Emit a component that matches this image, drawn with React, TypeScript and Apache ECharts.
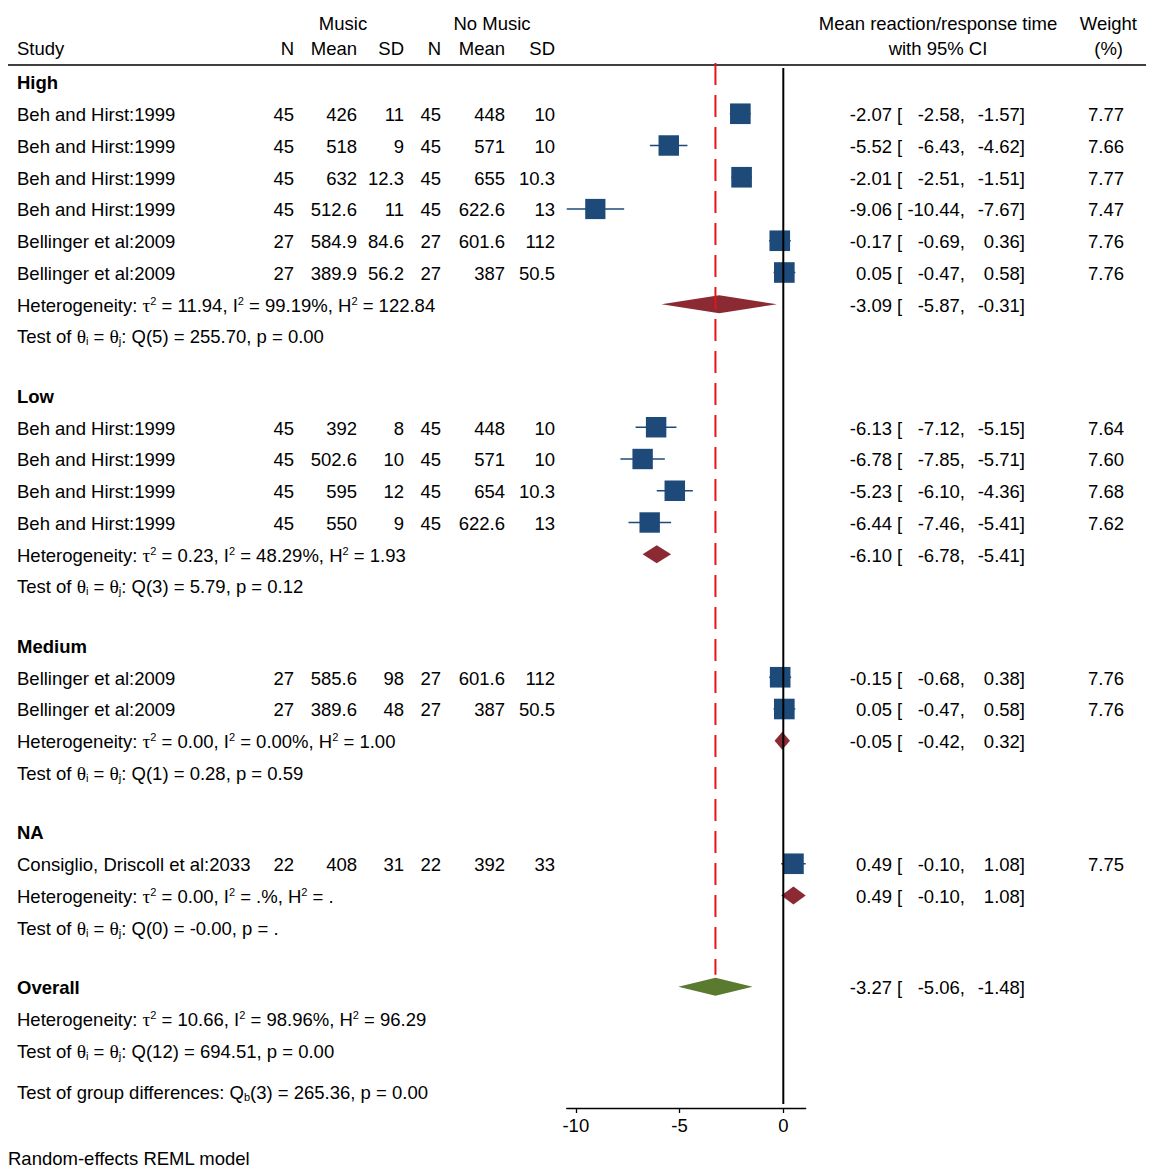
import React, { useEffect, useRef } from "react";
import * as echarts from "echarts";

// ---------------- data ----------------
const groupNames = ["High", "Low", "Medium", "NA"];
const studyNames = [
  "Beh and Hirst:1999", "Beh and Hirst:1999", "Beh and Hirst:1999", "Beh and Hirst:1999",
  "Bellinger et al:2009", "Bellinger et al:2009",
  "Beh and Hirst:1999", "Beh and Hirst:1999", "Beh and Hirst:1999", "Beh and Hirst:1999",
  "Bellinger et al:2009", "Bellinger et al:2009",
  "Consiglio, Driscoll et al:2033",
];
const studyGroup = [0, 0, 0, 0, 0, 0, 1, 1, 1, 1, 2, 2, 3];
const musicN = [45, 45, 45, 45, 27, 27, 45, 45, 45, 45, 27, 27, 22];
const musicMean = [426, 518, 632, 512.6, 584.9, 389.9, 392, 502.6, 595, 550, 585.6, 389.6, 408];
const musicSD = [11, 9, 12.3, 11, 84.6, 56.2, 8, 10, 12, 9, 98, 48, 31];
const noN = [45, 45, 45, 45, 27, 27, 45, 45, 45, 45, 27, 27, 22];
const noMean = [448, 571, 655, 622.6, 601.6, 387, 448, 571, 654, 622.6, 601.6, 387, 392];
const noSD = [10, 10, 10.3, 13, 112, 50.5, 10, 10, 10.3, 13, 112, 50.5, 33];
const effect = [-2.07, -5.52, -2.01, -9.06, -0.17, 0.05, -6.13, -6.78, -5.23, -6.44, -0.15, 0.05, 0.49];
const ciLow = [-2.58, -6.43, -2.51, -10.44, -0.69, -0.47, -7.12, -7.85, -6.1, -7.46, -0.68, -0.47, -0.1];
const ciHigh = [-1.57, -4.62, -1.51, -7.67, 0.36, 0.58, -5.15, -5.71, -4.36, -5.41, 0.38, 0.58, 1.08];
const weight = [7.77, 7.66, 7.77, 7.47, 7.76, 7.76, 7.64, 7.6, 7.68, 7.62, 7.76, 7.76, 7.75];

const groupEffect = [-3.09, -6.1, -0.05, 0.49];
const groupLow = [-5.87, -6.78, -0.42, -0.1];
const groupHigh = [-0.31, -5.41, 0.32, 1.08];
const groupTau2 = ["11.94", "0.23", "0.00", "0.00"];
const groupI2 = ["99.19%", "48.29%", "0.00%", ".%"];
const groupH2 = ["122.84", "1.93", "1.00", "."];
const groupQdf = [5, 3, 1, 0];
const groupQ = ["255.70", "5.79", "0.28", "-0.00"];
const groupP = ["0.00", "0.12", "0.59", "."];

const overallEffect = -3.27;
const overallLow = -5.06;
const overallHigh = -1.48;
const overallTau2 = "10.66";
const overallI2 = "98.96%";
const overallH2 = "96.29";
const overallQdf = 12;
const overallQ = "694.51";
const overallP = "0.00";
const diffDf = 3;
const diffQ = "265.36";
const diffP = "0.00";

const xTicks = [-10, -5, 0];

// ---------------- style / layout ----------------
const FONT = '"Liberation Sans", Arial, Helvetica, sans-serif';
const SERIF = '"Liberation Serif", "Times New Roman", serif';
const FS = 18.5;
const NAVY = "#1d4a78";
const RED_D = "#8c2a34";
const GREEN_D = "#5a7a30";
const RED_LINE = "#e3151b";

const TOP = 82;
const STEP = 31.75;
const GAP = 27.75;
const AXIS_Y = 1108;
const TDY = 0.8;

const COL = {
  name: 17, mN: 294, mMean: 357, mSD: 404, nN: 441, nMean: 505, nSD: 555,
  es: 892, br: 897, lo: 965, hi: 1025, w: 1124,
};

const fmt2 = (v: number) => v.toFixed(2);

const RICH = {
  sup: { fontFamily: FONT, fontSize: 11, fill: "#000", verticalAlign: "top", lineHeight: 12 },
  sub: { fontFamily: FONT, fontSize: 11, fill: "#000", verticalAlign: "bottom", lineHeight: 12 },
  g: { fontFamily: SERIF, fontSize: 19.5, fill: "#000" },
};

function txt(x: number, y: number, text: string, align = "left", bold = false, rich = false): any {
  const style: any = {
    text,
    fill: "#000",
    fontFamily: FONT,
    fontSize: FS,
    fontWeight: bold ? "bold" : "normal",
    align,
    textAlign: align,
    verticalAlign: "middle",
    textVerticalAlign: "middle",
  };
  if (rich) {
    style.rich = RICH;
    style.lineHeight = 20;
  }
  return { type: "text", x, y: y + TDY, silent: true, style };
}

function hetText(t2: string, i2: string, h2: string) {
  return `Heterogeneity: {g|τ}{sup|2} = ${t2}, I{sup|2} = ${i2}, H{sup|2} = ${h2}`;
}
function testText(df: number, q: string, p: string) {
  return `Test of {g|θ}{sub|i} = {g|θ}{sub|j}: Q(${df}) = ${q}, p = ${p}`;
}
function ciTexts(y: number, es: number, lo: number, hi: number) {
  return [
    txt(COL.es, y, fmt2(es), "right"),
    txt(COL.br, y, "[", "left"),
    txt(COL.lo, y, fmt2(lo) + ",", "right"),
    txt(COL.hi, y, fmt2(hi) + "]", "right"),
  ];
}

function buildOption() {
  const graphics: any[] = [];
  const studyData: any[] = [];
  const diamondData: any[] = [];

  // header
  graphics.push(txt(343, 23, "Music", "center"));
  graphics.push(txt(492, 23, "No Music", "center"));
  graphics.push(txt(938, 23, "Mean reaction/response time", "center"));
  graphics.push(txt(1137, 23, "Weight", "right"));
  graphics.push(txt(COL.name, 48, "Study", "left"));
  graphics.push(txt(COL.mN, 48, "N", "right"));
  graphics.push(txt(COL.mMean, 48, "Mean", "right"));
  graphics.push(txt(COL.mSD, 48, "SD", "right"));
  graphics.push(txt(COL.nN, 48, "N", "right"));
  graphics.push(txt(COL.nMean, 48, "Mean", "right"));
  graphics.push(txt(COL.nSD, 48, "SD", "right"));
  graphics.push(txt(938, 48, "with 95% CI", "center"));
  graphics.push(txt(1123, 48, "(%)", "right"));
  graphics.push({
    type: "line", silent: true,
    shape: { x1: 8, y1: 65, x2: 1146, y2: 65 },
    style: { stroke: "#000", lineWidth: 1.5 },
  });

  let idx = 0;
  let gaps = 0;
  const rowY = () => TOP + idx * STEP + gaps * GAP;

  groupNames.forEach((g, gi) => {
    graphics.push(txt(COL.name, rowY(), g, "left", true));
    idx++;
    studyNames.forEach((name, si) => {
      if (studyGroup[si] !== gi) return;
      const y = rowY();
      graphics.push(txt(COL.name, y, name, "left"));
      graphics.push(txt(COL.mN, y, String(musicN[si]), "right"));
      graphics.push(txt(COL.mMean, y, String(musicMean[si]), "right"));
      graphics.push(txt(COL.mSD, y, String(musicSD[si]), "right"));
      graphics.push(txt(COL.nN, y, String(noN[si]), "right"));
      graphics.push(txt(COL.nMean, y, String(noMean[si]), "right"));
      graphics.push(txt(COL.nSD, y, String(noSD[si]), "right"));
      graphics.push(...ciTexts(y, effect[si], ciLow[si], ciHigh[si]));
      graphics.push(txt(COL.w, y, fmt2(weight[si]), "right"));
      studyData.push([effect[si], ciLow[si], ciHigh[si], y, weight[si]]);
      idx++;
    });
    let y = rowY();
    graphics.push(txt(COL.name, y, hetText(groupTau2[gi], groupI2[gi], groupH2[gi]), "left", false, true));
    graphics.push(...ciTexts(y, groupEffect[gi], groupLow[gi], groupHigh[gi]));
    diamondData.push([groupEffect[gi], groupLow[gi], groupHigh[gi], y, 0]);
    idx++;
    y = rowY();
    graphics.push(txt(COL.name, y, testText(groupQdf[gi], groupQ[gi], groupP[gi]), "left", false, true));
    idx++;
    gaps++;
  });

  let y = rowY();
  graphics.push(txt(COL.name, y, "Overall", "left", true));
  graphics.push(...ciTexts(y, overallEffect, overallLow, overallHigh));
  diamondData.push([overallEffect, overallLow, overallHigh, y, 1]);
  const overallY = y;
  idx++;
  y = rowY();
  graphics.push(txt(COL.name, y, hetText(overallTau2, overallI2, overallH2), "left", false, true));
  idx++;
  y = rowY();
  graphics.push(txt(COL.name, y, testText(overallQdf, overallQ, overallP), "left", false, true));
  y += 41;
  graphics.push(txt(COL.name, y, `Test of group differences: Q{sub|b}(${diffDf}) = ${diffQ}, p = ${diffP}`, "left", false, true));
  graphics.push(txt(8, 1158, "Random-effects REML model", "left"));

  const xMin = Math.min(...ciLow);
  const xMax = Math.max(...ciHigh);

  return {
    animation: false,
    grid: { left: 566.7, right: 353.3, top: 0, height: AXIS_Y, containLabel: false },
    xAxis: {
      type: "value",
      min: xMin,
      max: xMax,
      splitLine: { show: false },
      axisLine: { show: true, onZero: false, lineStyle: { color: "#000", width: 1.3 } },
      axisTick: { show: true, length: 5, lineStyle: { color: "#000", width: 1.3 }, customValues: xTicks },
      axisLabel: {
        show: true, margin: 8, color: "#000", fontFamily: FONT, fontSize: FS,
        customValues: xTicks, showMinLabel: true, showMaxLabel: true,
      },
    },
    yAxis: { type: "value", min: 0, max: AXIS_Y, inverse: true, show: false },
    graphic: { elements: graphics },
    series: [
      {
        type: "custom",
        z: 2,
        silent: true,
        data: studyData,
        renderItem: (params: any, api: any) => {
          const yy = api.value(3);
          const c = api.coord([api.value(0), yy]);
          const l = api.coord([api.value(1), yy]);
          const r = api.coord([api.value(2), yy]);
          const s = 7.4 * Math.sqrt(api.value(4));
          return {
            type: "group",
            children: [
              { type: "line", shape: { x1: l[0], y1: l[1], x2: r[0], y2: r[1] }, style: { stroke: NAVY, lineWidth: 1.5 } },
              { type: "rect", shape: { x: c[0] - s / 2, y: c[1] - s / 2, width: s, height: s }, style: { fill: NAVY } },
            ],
          };
        },
      },
      {
        type: "custom",
        z: 2,
        silent: true,
        data: diamondData,
        renderItem: (params: any, api: any) => {
          const yy = api.value(3);
          const c = api.coord([api.value(0), yy]);
          const l = api.coord([api.value(1), yy]);
          const r = api.coord([api.value(2), yy]);
          const h = 9;
          return {
            type: "polygon",
            shape: { points: [[l[0], c[1]], [c[0], c[1] - h], [r[0], c[1]], [c[0], c[1] + h]] },
            style: { fill: api.value(4) === 1 ? GREEN_D : RED_D },
          };
        },
      },
      {
        type: "line",
        z: 3,
        silent: true,
        symbol: "none",
        data: [[0, 68], [0, AXIS_Y - 4]],
        lineStyle: { color: "#000", width: 2 },
      },
      {
        type: "line",
        z: 4,
        silent: true,
        symbol: "none",
        data: [[overallEffect, 63], [overallEffect, overallY - 12]],
        lineStyle: { color: RED_LINE, width: 2, type: [22, 10] },
      },
    ],
  };
}

export default function App() {
  const ref = useRef<HTMLDivElement>(null);
  useEffect(() => {
    document.body.style.margin = "0";
    const chart = echarts.init(ref.current!, null, { renderer: "svg" });
    chart.setOption(buildOption() as any);
    return () => chart.dispose();
  }, []);
  return <div ref={ref} style={{ width: 1159, height: 1174, background: "#fff" }} />;
}
